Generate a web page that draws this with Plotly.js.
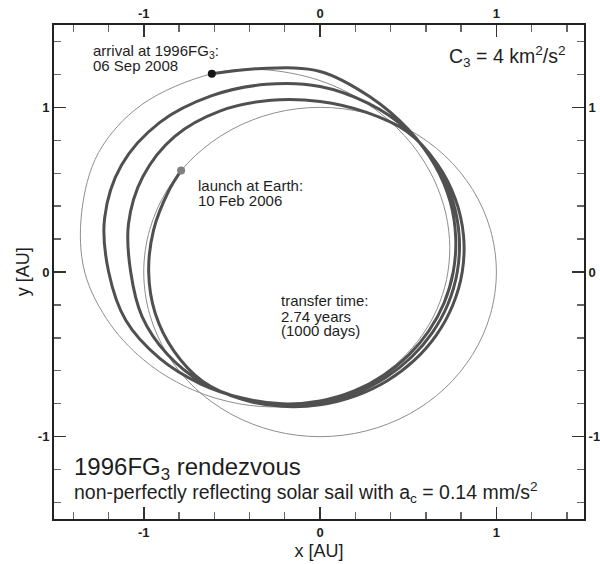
<!DOCTYPE html>
<html>
<head>
<meta charset="utf-8">
<script src="https://cdn.plot.ly/plotly-3.0.1.min.js"></script>
<style>
  html, body { margin: 0; padding: 0; background: #ffffff; }
  #chart { width: 600px; height: 564px; }
</style>
</head>
<body>
<div id="chart"></div>
<script>
// Earth orbit, heliocentric ecliptic coordinates [AU]
const earthX = [1, 0.9659, 0.866, 0.7071, 0.5, 0.2588, 0, -0.2588, -0.5, -0.7071, -0.866, -0.9659, -1,
                -0.9659, -0.866, -0.7071, -0.5, -0.2588, 0, 0.2588, 0.5, 0.7071, 0.866, 0.9659, 1];
const earthY = [0, 0.2588, 0.5, 0.7071, 0.866, 0.9659, 1, 0.9659, 0.866, 0.7071, 0.5, 0.2588, 0,
                -0.2588, -0.5, -0.7071, -0.866, -0.9659, -1, -0.9659, -0.866, -0.7071, -0.5, -0.2588, 0];

// Orbit of asteroid 1996 FG3 [AU], starting at the rendezvous point
const fg3X = [-0.614, -1.0141, -1.2562, -1.352, -1.3351, -1.1889, -0.9698, -0.7177, -0.4618, -0.2195, 0,
              0.1928, 0.3577, 0.4943, 0.602, 0.6798, 0.7252, 0.7342, 0.7012, 0.6188, 0.4784, 0.2728, 0,
              -0.3294, -0.614];
const fg3Y = [1.204, 1.0141, 0.7253, 0.362, 0, -0.3186, -0.5599, -0.7177, -0.7998, -0.8192, -0.7889,
              -0.7197, -0.6196, -0.4943, -0.3476, -0.1822, 0, 0.1967, 0.4049, 0.6188, 0.8286, 1.018, 1.1622,
              1.2292, 1.204];

// Solar sail transfer trajectory [AU], launch to arrival (about three revolutions)
const sailX = [
  -0.788, -0.8573, -0.9447, -0.972, -0.935, -0.8296, -0.6647,
  -0.4457, -0.2185, 0, 0.2015, 0.3812, 0.5353, 0.6605, 0.7525, 0.8063, 0.8139, 0.7673, 0.6612,
  0.4925, 0.2601, 0, -0.2795, -0.565, -0.8238, -1.0046, -1.0866, -1.074, -1.0094, -0.866, -0.6703,
  -0.4436, -0.2164, 0, 0.1972, 0.3707, 0.5179, 0.6369, 0.7255, 0.7783, 0.7895, 0.7515, 0.6553,
  0.4975, 0.2743, 0, -0.3054, -0.6175, -0.9086, -1.1258, -1.2219, -1.199, -1.1011, -0.9093, -0.6788,
  -0.4419, -0.2146, 0, 0.1936, 0.362, 0.5035, 0.6176, 0.7033, 0.7553, 0.7695, 0.7385, 0.6504,
  0.5, 0.2847, 0, -0.3313, -0.614
];
const sailY = [
  0.616, 0.495, 0.2531, 0, -0.2505, -0.479, -0.6647,
  -0.772, -0.8156, -0.8064, -0.7522, -0.6602, -0.5353, -0.3814, -0.2016, 0, 0.2181, 0.443, 0.6612,
  0.853, 0.9707, 1.036, 1.0432, 0.9786, 0.8238, 0.58, 0.2912, 0, -0.2704, -0.5, -0.6703,
  -0.7683, -0.8075, -0.7938, -0.7359, -0.642, -0.5179, -0.3678, -0.1944, 0, 0.2115, 0.4339, 0.6553,
  0.8617, 1.0239, 1.127, 1.1398, 1.0695, 0.9086, 0.65, 0.3274, 0, -0.295, -0.525, -0.6788,
  -0.7653, -0.8008, -0.7834, -0.7226, -0.627, -0.5035, -0.3566, -0.1884, 0, 0.2062, 0.4264, 0.6504,
  0.866, 1.0625, 1.218, 1.2364, 1.204
];

// Event positions [AU]
const launchX = [-0.788], launchY = [0.616];
const arrivalX = [-0.614], arrivalY = [1.204];
const sunX = [0], sunY = [0];

// Axis ticks
const tickVals = [-1, 0, 1];
const tickText = ['-1', '0', '1'];

// Text labels
const arrivalLines = ['arrival at 1996FG<sub>3</sub>:', '06 Sep 2008'];
const launchLines = ['launch at Earth:', '10 Feb 2006'];
const transferLines = ['transfer time:', '2.74 years', '(1000 days)'];
const c3Label = 'C<sub>3</sub> = 4 km<sup>2</sup>/s<sup>2</sup>';
const titleLine = '1996FG<sub>3</sub> rendezvous';
const subtitleLine = 'non-perfectly reflecting solar sail with a<sub>c</sub> = 0.14 mm/s<sup>2</sup>';
const xTitle = 'x [AU]';
const yTitle = 'y [AU]';

const FONT = 'Liberation Sans, Arial, Helvetica, sans-serif';
const INK = '#1e1e1e';
const xRange = [-1.509, 1.497];
const yRange = [-1.5, 1.5];

const traces = [
  { x: earthX, y: earthY, mode: 'lines', line: { color: '#8e8e8e', width: 1, shape: 'spline' }, hoverinfo: 'skip' },
  { x: fg3X, y: fg3Y, mode: 'lines', line: { color: '#8e8e8e', width: 1, shape: 'spline' }, hoverinfo: 'skip' },
  { x: sailX, y: sailY, mode: 'lines', line: { color: '#505050', width: 3, shape: 'spline' }, hoverinfo: 'skip' },
  { x: launchX, y: launchY, mode: 'markers', marker: { color: '#808080', size: 8, symbol: 'circle' }, hoverinfo: 'skip' },
  { x: arrivalX, y: arrivalY, mode: 'markers', marker: { color: '#151515', size: 8, symbol: 'circle' }, hoverinfo: 'skip' },
  { x: sunX, y: sunY, xaxis: 'x2', yaxis: 'y2', mode: 'markers',
    marker: { color: 'rgba(0,0,0,0)', size: 7, symbol: 'circle-open', line: { color: '#222222', width: 1.2 } },
    hoverinfo: 'skip' }
];

function axisBase(extra) {
  return Object.assign({
    autorange: false,
    showgrid: false,
    zeroline: false,
    showline: true,
    linecolor: '#222222',
    linewidth: 2,
    ticks: 'inside',
    ticklen: 12,
    tickwidth: 1.6,
    tickcolor: '#333333',
    tickmode: 'array',
    tickvals: tickVals,
    ticktext: tickText,
    tickfont: { family: FONT, size: 13, color: INK, weight: 'bold' },
    minor: { tickmode: 'linear', tick0: 0, dtick: 0.2, ticks: 'inside', ticklen: 7, tickwidth: 1.4, tickcolor: '#666666' },
    fixedrange: true
  }, extra);
}

function textAnn(x, y, text, size, anchor) {
  return {
    x: x, y: y, xref: 'x', yref: 'y', text: text, showarrow: false,
    xanchor: anchor || 'left', yanchor: 'middle',
    font: { family: FONT, size: size, color: INK }
  };
}

const annotations = [
  textAnn(-1.299, 1.339, arrivalLines[0], 15),
  textAnn(-1.299, 1.2526, arrivalLines[1], 15),
  textAnn(-0.706, 0.525, launchLines[0], 15),
  textAnn(-0.706, 0.437, launchLines[1], 15),
  textAnn(-0.231, -0.174, transferLines[0], 15),
  textAnn(-0.231, -0.270, transferLines[1], 15),
  textAnn(-0.231, -0.356, transferLines[2], 15),
  textAnn(1.405, 1.311, c3Label, 19.5, 'right'),
  textAnn(-1.408, -1.1955, titleLine, 24),
  textAnn(-1.407, -1.342, subtitleLine, 19.5),
  // vertical axis title, placed left of the tick labels
  { x: -0.058, y: 0.5, xref: 'paper', yref: 'paper', text: yTitle, showarrow: false, textangle: -90,
    xanchor: 'center', yanchor: 'middle', font: { family: FONT, size: 18, color: INK } }
];

const layout = {
  width: 600,
  height: 564,
  margin: { l: 54, r: 16, t: 25, b: 45, pad: 0 },
  paper_bgcolor: '#ffffff',
  plot_bgcolor: '#ffffff',
  showlegend: false,
  font: { family: FONT, color: INK },
  xaxis: axisBase({ range: xRange, side: 'bottom', anchor: 'y',
    title: { text: xTitle, font: { family: FONT, size: 18, color: INK }, standoff: 6 } }),
  yaxis: axisBase({ range: yRange, side: 'left', anchor: 'x' }),
  xaxis2: axisBase({ range: xRange, side: 'top', overlaying: 'x', anchor: 'y2' }),
  yaxis2: axisBase({ range: yRange, side: 'right', overlaying: 'y', anchor: 'x2' }),
  annotations: annotations
};

Plotly.newPlot('chart', traces, layout, { staticPlot: true, displayModeBar: false });
</script>
</body>
</html>
